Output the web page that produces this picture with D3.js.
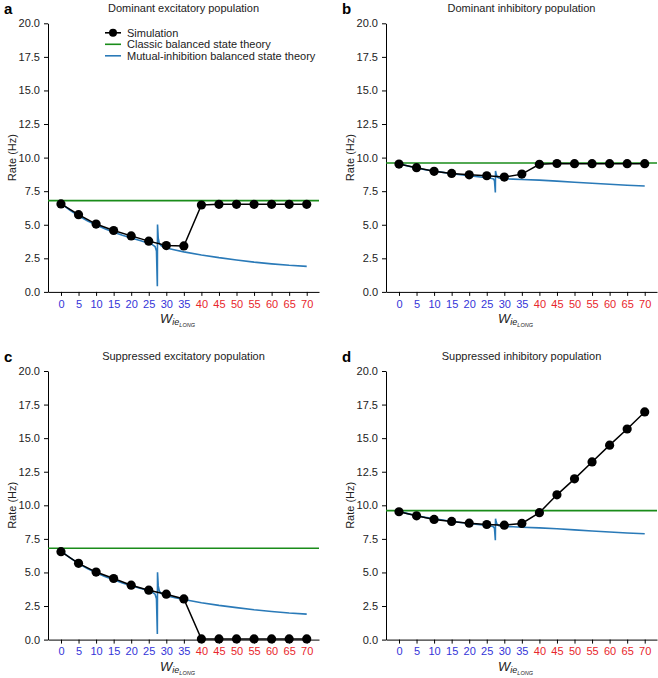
<!DOCTYPE html>
<html>
<head>
<meta charset="utf-8">
<script src="https://cdn.jsdelivr.net/npm/d3@7"></script>
<style>
  body { margin: 0; background: #fff; }
  svg { font-family: "Liberation Sans", Arial, sans-serif; }
  .axis path, .axis line { stroke: #000; stroke-width: 1; }
  .axis text { font-size: 11px; fill: #222; }
</style>
</head>
<body>
<div id="chart"></div>
<script>
// x positions of the simulation points
var wValues = [0, 5, 10, 15, 20, 25, 30, 35, 40, 45, 50, 55, 60, 65, 70];
var yTicks = [0, 2.5, 5, 7.5, 10, 12.5, 15, 17.5, 20];

// simulation rates (Hz)
var simDomE = [6.55, 5.75, 5.05, 4.57, 4.17, 3.78, 3.45, 3.42, 6.47, 6.52, 6.52, 6.52, 6.52, 6.52, 6.52];
var simDomI = [9.52, 9.25, 8.98, 8.82, 8.72, 8.65, 8.55, 8.77, 9.5, 9.56, 9.55, 9.55, 9.55, 9.55, 9.55];
var simSupE = [6.55, 5.68, 5.03, 4.55, 4.05, 3.68, 3.38, 3.03, 0.05, 0.05, 0.05, 0.05, 0.05, 0.05, 0.05];
var simSupI = [9.52, 9.22, 8.95, 8.8, 8.67, 8.57, 8.52, 8.65, 9.45, 10.78, 11.97, 13.23, 14.48, 15.68, 16.95];

// classic balanced state theory (flat)
var classicE = 6.8;
var classicI = 9.6;

// mutual-inhibition theory
var theoryX  = [0, 2.5, 5, 7.5, 10, 12.5, 15, 17.5, 20, 22.5, 25, 26, 26.8, 27.2, 27.45, 27.5, 27.7, 28, 28.5, 29.2, 30, 32.5, 35, 40, 45, 50, 55, 60, 65, 70];
var theoryE  = [6.6, 6.1, 5.67, 5.3, 4.98, 4.7, 4.45, 4.22, 4.02, 3.83, 3.63, 3.52, 3.38, 3.05, 0.42, 5.02, 4.0, 3.62, 3.45, 3.35, 3.27, 3.12, 2.98, 2.75, 2.55, 2.38, 2.22, 2.09, 1.98, 1.9];
var theoryI  = [9.55, 9.38, 9.22, 9.1, 9.0, 8.9, 8.8, 8.72, 8.65, 8.57, 8.5, 8.46, 8.42, 8.3, 7.4, 9.0, 8.75, 8.55, 8.48, 8.44, 8.42, 8.4, 8.37, 8.32, 8.25, 8.17, 8.09, 8.01, 7.94, 7.88];

var titles = ["Dominant excitatory population", "Dominant inhibitory population",
              "Suppressed excitatory population", "Suppressed inhibitory population"];
var letters = ["a", "b", "c", "d"];
var legendLabels = ["Simulation", "Classic balanced state theory", "Mutual-inhibition balanced state theory"];

var BLUE = "#2a7ab8", GREEN = "#1a8c1a";

var svg = d3.select("#chart").append("svg")
  .attr("width", 658).attr("height", 678);

var panels = [
  {left: 48,  top: 23.3, sim: simDomE, classic: classicE, theory: theoryE, legend: true},
  {left: 386, top: 23.3, sim: simDomI, classic: classicI, theory: theoryI},
  {left: 48,  top: 371,  sim: simSupE, classic: classicE, theory: theoryE},
  {left: 386, top: 371,  sim: simSupI, classic: classicI, theory: theoryI}
];

var W = 271, H = 268.6;

panels.forEach(function(p, i) {
  var g = svg.append("g").attr("transform", "translate(" + p.left + "," + p.top + ")");

  var x = d3.scaleLinear().domain([-3.7, 73.5]).range([0, W]);
  var y = d3.scaleLinear().domain([0, 20]).range([H, 0]);

  // axes
  var xa = g.append("g").attr("class", "axis")
    .attr("transform", "translate(0," + H + ")")
    .call(d3.axisBottom(x).tickValues(wValues).tickSize(4).tickSizeOuter(0).tickPadding(4));
  xa.selectAll("text").style("fill", function(d) { return d < 40 ? "#3434d8" : "#e8262c"; });

  g.append("g").attr("class", "axis")
    .call(d3.axisLeft(y).tickValues(yTicks).tickFormat(d3.format(".1f")).tickSize(4).tickSizeOuter(0).tickPadding(4));

  // classic line
  g.append("line")
    .attr("x1", 0).attr("x2", W)
    .attr("y1", y(p.classic)).attr("y2", y(p.classic))
    .attr("stroke", GREEN).attr("stroke-width", 1.6);

  // theory curve
  var tl = d3.line()
    .x(function(d, j) { return x(theoryX[j]); })
    .y(function(d) { return y(d); });
  g.append("path").datum(p.theory)
    .attr("d", tl).attr("fill", "none")
    .attr("stroke", BLUE).attr("stroke-width", 1.6);

  // simulation
  var sl = d3.line()
    .x(function(d, j) { return x(wValues[j]); })
    .y(function(d) { return y(d); });
  g.append("path").datum(p.sim)
    .attr("d", sl).attr("fill", "none")
    .attr("stroke", "#000").attr("stroke-width", 1.5);
  g.selectAll(".dot").data(p.sim).enter().append("circle")
    .attr("class", "dot")
    .attr("cx", function(d, j) { return x(wValues[j]); })
    .attr("cy", function(d) { return y(d); })
    .attr("r", 4.6).attr("fill", "#000");

  // title & letter
  g.append("text").attr("x", W / 2).attr("y", -11)
    .attr("text-anchor", "middle").style("font-size", "11px").attr("fill", "#222")
    .text(titles[i]);
  svg.append("text").attr("x", p.left - 44).attr("y", p.top - 9)
    .style("font-size", "15px").style("font-weight", "bold")
    .text(letters[i]);

  // y label
  g.append("text")
    .attr("transform", "translate(-32," + (H / 2) + ") rotate(-90)")
    .attr("text-anchor", "middle").style("font-size", "11px").attr("fill", "#222")
    .text("Rate (Hz)");

  // x label  W_{ie_LONG}
  var xl = g.append("text").attr("x", W / 2 - 6).attr("y", H + 31)
    .attr("text-anchor", "middle").attr("fill", "#222");
  xl.append("tspan").style("font-size", "13px").style("font-style", "italic").text("W");
  xl.append("tspan").attr("dy", 2.5).style("font-size", "9px").style("font-style", "italic").text("ie");
  xl.append("tspan").attr("dy", 1.5).style("font-size", "5.5px").style("font-style", "italic").text("LONG");

  if (p.legend) {
    var lg = g.append("g").attr("transform", "translate(57,9.5)");
    legendLabels.forEach(function(lab, k) {
      var row = lg.append("g").attr("transform", "translate(0," + (k * 11.5) + ")");
      row.append("line").attr("x1", 0).attr("x2", 16).attr("y1", 0).attr("y2", 0)
        .attr("stroke", k == 0 ? "#000" : (k == 1 ? GREEN : BLUE)).attr("stroke-width", 1.6);
      if (k == 0) row.append("circle").attr("cx", 8).attr("cy", 0).attr("r", 4).attr("fill", "#000");
      row.append("text").attr("x", 22).attr("y", 4).style("font-size", "11px").attr("fill", "#222").text(lab);
    });
  }
});
</script>
</body>
</html>
